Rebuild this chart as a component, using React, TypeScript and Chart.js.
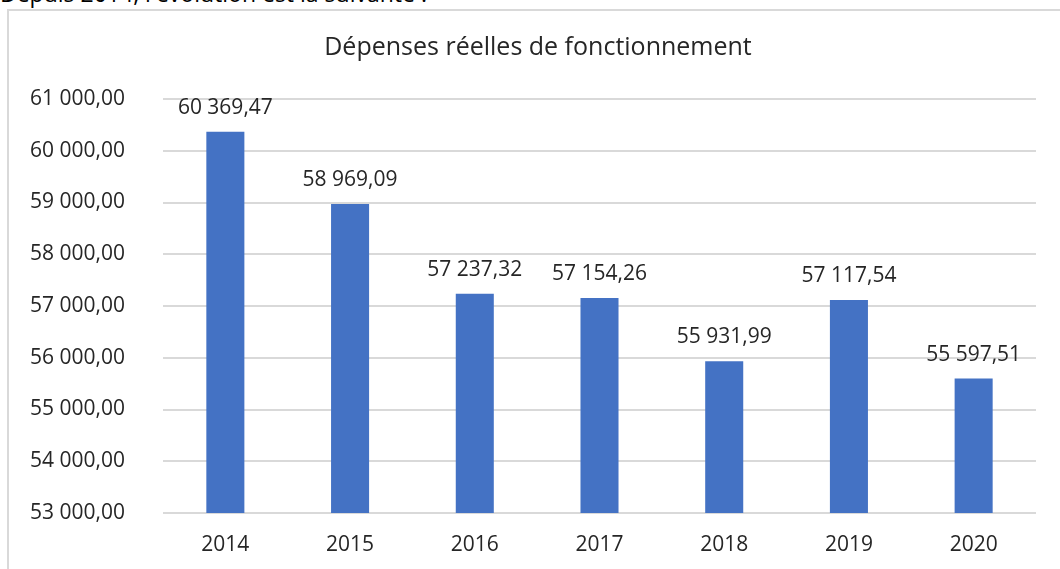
import React, { useEffect, useRef } from "react";
import { Chart, registerables } from "chart.js";

Chart.register(...registerables);

const TITLE = "Dépenses réelles de fonctionnement";
const INTRO = "Depuis 2014, l'évolution est la suivante :";
const YEARS = ["2014", "2015", "2016", "2017", "2018", "2019", "2020"];
const DEPENSES = [60369.47, 58969.09, 57237.32, 57154.26, 55931.99, 57117.54, 55597.51];
const Y_MIN = 53000;
const Y_MAX = 61000;
const Y_STEP = 1000;

const FONT = "'Open Sans', 'Noto Sans', sans-serif";
const TEXT = "#262626";
const BAR = "#4472C4";
const GRID = "#d9d9d9";

function fmt(v: number): string {
  const fixed = Math.abs(v).toFixed(2);
  const [intPart, dec] = fixed.split(".");
  const grouped = intPart.replace(/\B(?=(\d{3})+(?!\d))/g, " ");
  return (v < 0 ? "-" : "") + grouped + "," + dec;
}

const dataLabels = {
  id: "dataLabels",
  afterDatasetsDraw(chart: any) {
    const ctx = chart.ctx;
    const meta = chart.getDatasetMeta(0);
    ctx.save();
    ctx.font = `21px ${FONT}`;
    ctx.fillStyle = TEXT;
    ctx.textAlign = "center";
    ctx.textBaseline = "middle";
    meta.data.forEach((el: any, i: number) => {
      ctx.fillText(fmt(DEPENSES[i]), el.x, el.y - 24);
    });
    ctx.restore();
  },
};

const chartTitle = {
  id: "chartTitle",
  afterDraw(chart: any) {
    const ctx = chart.ctx;
    ctx.save();
    ctx.font = `25px ${FONT}`;
    ctx.fillStyle = TEXT;
    ctx.textAlign = "center";
    ctx.textBaseline = "middle";
    ctx.fillText(TITLE, 538, 48);
    ctx.restore();
  },
};

export default function App() {
  const ref = useRef<HTMLCanvasElement | null>(null);

  useEffect(() => {
    document.body.style.margin = "0";
    const chart = new Chart(ref.current as HTMLCanvasElement, {
      type: "bar",
      data: {
        labels: YEARS,
        datasets: [
          {
            data: DEPENSES,
            backgroundColor: BAR,
            borderWidth: 0,
            barPercentage: 1,
            categoryPercentage: 0.305,
          },
        ],
      },
      options: {
        animation: false,
        responsive: false,
        layout: { padding: { left: 0, right: 24, top: 99, bottom: 0 } },
        plugins: {
          legend: { display: false },
          tooltip: { enabled: false },
          title: { display: false },
        },
        scales: {
          x: {
            grid: { display: false, drawTicks: false },
            border: { display: false },
            ticks: { color: TEXT, font: { family: FONT, size: 21 }, padding: 19 },
            afterFit: (s: any) => {
              s.height = 56;
            },
          },
          y: {
            min: Y_MIN,
            max: Y_MAX,
            grid: { color: GRID, lineWidth: 2, drawTicks: false },
            border: { display: false },
            ticks: {
              stepSize: Y_STEP,
              color: TEXT,
              font: { family: FONT, size: 21 },
              padding: 38,
              callback: (v: any) => fmt(Number(v)),
            },
            afterFit: (s: any) => {
              s.width = 163;
            },
          },
        },
      },
      plugins: [dataLabels, chartTitle],
    });
    return () => chart.destroy();
  }, []);

  return (
    <div style={{ position: "fixed", left: 0, top: 0, width: 1060, height: 569, overflow: "hidden", background: "#fff" }}>
      <div
        style={{
          position: "absolute",
          left: 0,
          top: -20,
          fontFamily: FONT,
          fontSize: 23,
          lineHeight: "26px",
          color: "#000",
          whiteSpace: "nowrap",
        }}
      >
        {INTRO}
      </div>
      <div
        style={{
          position: "absolute",
          left: 7,
          top: 9,
          width: 1100,
          height: 600,
          border: "2px solid #d9d9d9",
          boxSizing: "border-box",
        }}
      />
      <canvas ref={ref} width={1060} height={569} style={{ position: "absolute", left: 0, top: 0, display: "block" }} />
    </div>
  );
}
